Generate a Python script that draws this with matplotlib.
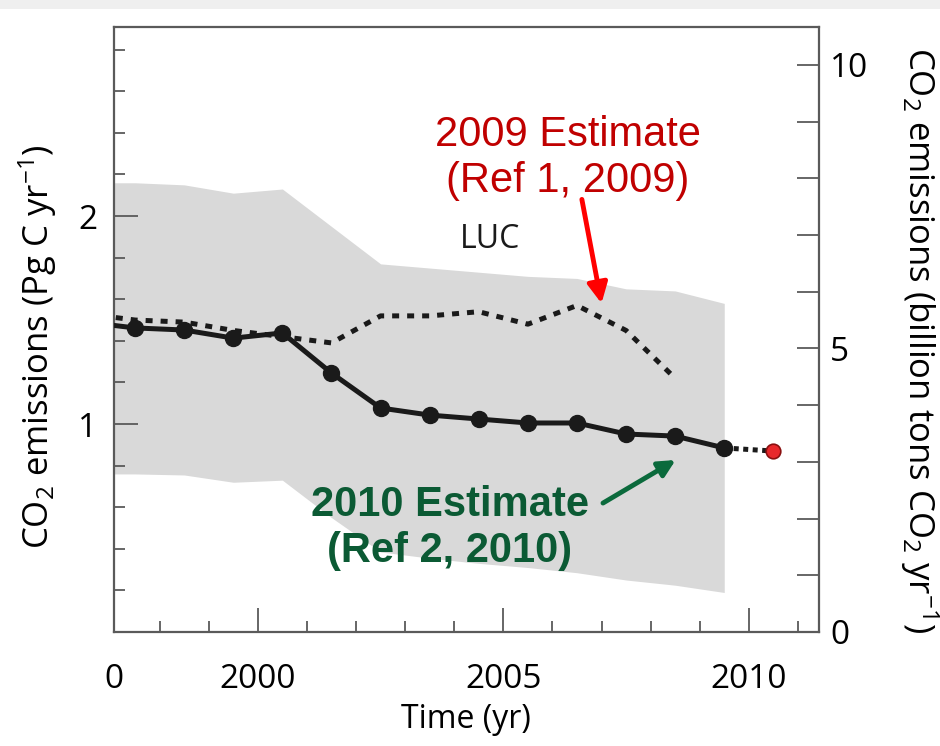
import matplotlib
matplotlib.use("Agg")
import matplotlib.pyplot as plt
from matplotlib.patches import Rectangle
from matplotlib.ticker import MultipleLocator

plt.rcParams['font.family'] = ['Open Sans', 'DejaVu Sans']
plt.rcParams['mathtext.fontset'] = 'custom'
plt.rcParams['mathtext.rm'] = 'Open Sans'
plt.rcParams['mathtext.it'] = 'Open Sans'
plt.rcParams['mathtext.bf'] = 'Open Sans'

# years (mid-year positions); first one lies left of the axis and gets clipped
years = [1996.5, 1997.5, 1998.5, 1999.5, 2000.5, 2001.5, 2002.5, 2003.5,
         2004.5, 2005.5, 2006.5, 2007.5, 2008.5, 2009.5]

# 2010 estimate (Pg C / yr)
luc_2010 = [1.49, 1.462, 1.452, 1.413, 1.438, 1.245, 1.077, 1.043,
            1.024, 1.005, 1.005, 0.952, 0.942, 0.885]

# 2009 estimate, ends in 2008
years_2009 = years[:-1]
luc_2009 = [1.53, 1.50, 1.49, 1.45, 1.42, 1.39, 1.52, 1.52,
            1.54, 1.48, 1.57, 1.45, 1.22]

# uncertainty band
band_upper = [2.16, 2.16, 2.15, 2.11, 2.13, 1.95, 1.77, 1.75,
              1.73, 1.71, 1.70, 1.65, 1.64, 1.58]
band_lower = [0.76, 0.76, 0.755, 0.72, 0.73, 0.55, 0.385, 0.355,
              0.33, 0.31, 0.285, 0.25, 0.225, 0.19]

# 2010 projection
proj_years = [2009.5, 2010.5]
proj_vals = [0.885, 0.870]

xmin, xmax = 1997.07, 2011.43
ymax = 2.909
pg_to_co2 = 3.667

xtick_pos = [xmin, 2000, 2005, 2010]
xtick_lab = ['0', '2000', '2005', '2010']

fig = plt.figure(figsize=(9.4, 7.46), dpi=100)
fig.add_artist(Rectangle((0, 1 - 9 / 746), 1, 9 / 746, transform=fig.transFigure,
                         facecolor='#efefef', edgecolor='none'))
ax = fig.add_axes([114 / 940, 1 - 632 / 746, 705 / 940, 605 / 746])

spine_c = '#5a5a5a'
line_c = '#1a1a1a'

ax.fill_between(years, band_lower, band_upper, color='#d9d9d9', lw=0, zorder=1)
ax.plot(years_2009, luc_2009, color=line_c, lw=3.6, ls=(0, (1.4, 1.6)),
        dash_capstyle='butt', zorder=3)
ax.plot(proj_years, proj_vals, color=line_c, lw=3.6, ls=(0, (1.0, 0.9)),
        dash_capstyle='butt', zorder=3)
ax.plot(years, luc_2010, color=line_c, lw=3.6, marker='o', ms=11.5,
        markevery=list(range(1, len(years))), zorder=4)
ax.plot(proj_years[1:], proj_vals[1:], ls='none', marker='o', ms=10.5,
        mfc='#e8282b', mec='#8a1010', mew=1.2, zorder=5)

ax.set_xlim(xmin, xmax)
ax.set_ylim(0, ymax)

for s in ax.spines.values():
    s.set_color(spine_c)
    s.set_linewidth(1.6)

ax.set_xticks(xtick_pos)
ax.set_xticklabels(xtick_lab)
ax.xaxis.set_minor_locator(MultipleLocator(1))
ax.tick_params(axis='x', which='major', direction='in', length=17, width=1.3,
               color=spine_c, labelsize=24, pad=22)
ax.tick_params(axis='x', which='minor', direction='in', length=8, width=1.3,
               color=spine_c)

ax.set_yticks([1, 2])
ax.yaxis.set_minor_locator(MultipleLocator(0.2))
ax.tick_params(axis='y', which='major', direction='in', length=17, width=1.3,
               color=spine_c, labelsize=24, pad=12)
ax.tick_params(axis='y', which='minor', direction='in', length=8, width=1.3,
               color=spine_c)
ax.tick_params(top=False, which='both')

ax2 = ax.twinx()
ax2.set_ylim(0, ymax * pg_to_co2)
ax2.set_yticks([0, 5, 10])
ax2.yaxis.set_minor_locator(MultipleLocator(1))
ax2.tick_params(axis='y', which='both', direction='in', length=16, width=1.3,
                color=spine_c, labelsize=24, pad=8)
for s in ax2.spines.values():
    s.set_visible(False)

ax.set_xlabel('Time (yr)', fontsize=23, va='center')
ax.xaxis.set_label_coords(0.499, -0.145)
ax.set_ylabel(r'CO$_2$ emissions (Pg C yr$^{-1}$)', fontsize=25, va='center')
ax.yaxis.set_label_coords(-0.109, 0.471)
ax2.set_ylabel(r'CO$_2$ emissions (billion tons CO$_2$ yr$^{-1}$)', fontsize=25,
               rotation=-90, va='center')
ax2.yaxis.set_label_coords(1.142, 0.483)

ax.text(2004.72, 1.885, 'LUC', fontsize=23, ha='center', va='center',
        color='#1a1a1a', zorder=6)

ax.text(2006.31, 2.279, '2009 Estimate\n(Ref 1, 2009)', fontsize=30,
        family='Liberation Sans', color='#c00000', ha='center', va='center',
        zorder=6)
ax.annotate('', xy=(2007.0, 1.58), xytext=(2006.6, 2.08),
            arrowprops=dict(arrowstyle='-|>,head_length=1.2,head_width=0.6',
                            color='#ff0000', lw=3.5, shrinkA=0, shrinkB=0),
            zorder=6)

ax.text(2003.91, 0.50, '2010 Estimate\n(Ref 2, 2010)', fontsize=30,
        family='Liberation Sans', fontweight='bold', color='#0b5a34',
        ha='center', va='center', zorder=6)
ax.annotate('', xy=(2008.51, 0.827), xytext=(2007.03, 0.62),
            arrowprops=dict(arrowstyle='-|>,head_length=1.0,head_width=0.5',
                            color='#0b6a3c', lw=3.5, shrinkA=0, shrinkB=0),
            zorder=6)

fig.savefig('out.png', dpi=100)
